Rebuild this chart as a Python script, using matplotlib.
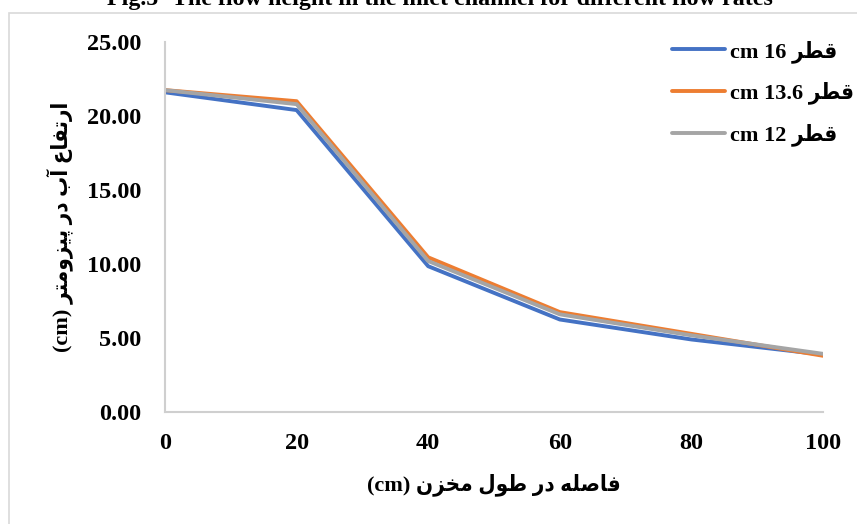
import matplotlib
matplotlib.use("Agg")
import matplotlib.pyplot as plt
from matplotlib.patches import Rectangle

# ---- data -------------------------------------------------------------
distance = [0, 20, 40, 60, 80, 100]
h_d16 = [21.6, 20.4, 9.85, 6.25, 4.9, 3.88]
h_d136 = [21.75, 21.0, 10.45, 6.75, 5.28, 3.8]
h_d12 = [21.75, 20.8, 10.2, 6.6, 5.18, 3.93]
y_ticks = [0, 5, 10, 15, 20, 25]

title = "Fig.5- The flow height in the inlet channel for different flow rates"
xlabel_fa = "فاصله در طول مخزن"
ylabel_fa = "ارتفاع آب در پیزومتر"
diam_fa = "قطر"
series_labels = ["16", "13.6", "12"]

# ---- minimal Arabic/Persian shaping (presentation forms, visual order) --
# letter: (isolated, final, initial, medial); None = does not join forward
FORMS = {
    "ا": ("\uFE8D", "\uFE8E", None, None),
    "آ": ("\uFE81", "\uFE82", None, None),
    "ب": ("\uFE8F", "\uFE90", "\uFE91", "\uFE92"),
    "ت": ("\uFE95", "\uFE96", "\uFE97", "\uFE98"),
    "خ": ("\uFEA5", "\uFEA6", "\uFEA7", "\uFEA8"),
    "د": ("\uFEA9", "\uFEAA", None, None),
    "ر": ("\uFEAD", "\uFEAE", None, None),
    "ز": ("\uFEAF", "\uFEB0", None, None),
    "ص": ("\uFEB9", "\uFEBA", "\uFEBB", "\uFEBC"),
    "ط": ("\uFEC1", "\uFEC2", "\uFEC3", "\uFEC4"),
    "ع": ("\uFEC9", "\uFECA", "\uFECB", "\uFECC"),
    "ف": ("\uFED1", "\uFED2", "\uFED3", "\uFED4"),
    "ق": ("\uFED5", "\uFED6", "\uFED7", "\uFED8"),
    "ل": ("\uFEDD", "\uFEDE", "\uFEDF", "\uFEE0"),
    "م": ("\uFEE1", "\uFEE2", "\uFEE3", "\uFEE4"),
    "ن": ("\uFEE5", "\uFEE6", "\uFEE7", "\uFEE8"),
    "ه": ("\uFEE9", "\uFEEA", "\uFEEB", "\uFEEC"),
    "و": ("\uFEED", "\uFEEE", None, None),
    "پ": ("\uFB56", "\uFB57", "\uFB58", "\uFB59"),
    "ی": ("\uFBFC", "\uFBFD", "\uFBFE", "\uFBFF"),
}


def shape_rtl(text):
    out = []
    for i, c in enumerate(text):
        if c not in FORMS:
            out.append(c)
            continue
        iso, fin, ini, med = FORMS[c]
        prev = text[i - 1] if i > 0 else None
        nxt = text[i + 1] if i + 1 < len(text) else None
        jp = prev in FORMS and FORMS[prev][2] is not None
        jn = nxt in FORMS and ini is not None
        if jp and jn:
            out.append(med)
        elif jp:
            out.append(fin)
        elif jn:
            out.append(ini)
        else:
            out.append(iso)
    return "".join(reversed(out))


FONT = ["Liberation Serif", "DejaVu Sans"]
plt.rcParams["font.family"] = FONT
plt.rcParams["font.weight"] = "bold"
plt.rcParams["font.stretch"] = "condensed"

W, H = 857, 524
fig = plt.figure(figsize=(W / 100, H / 100), dpi=100)
ax = fig.add_axes([165 / W, 1 - 412 / H, (823 - 165) / W, (412 - 42) / H])

colors = ["#4472C4", "#ED7D31", "#A5A5A5"]
for ys, col, lab in zip([h_d16, h_d136, h_d12], colors, series_labels):
    ax.plot(distance, ys, color=col, lw=2.8, solid_joinstyle="round",
            solid_capstyle="round",
            label=f"cm {lab} " + shape_rtl(diam_fa))

ax.set_xlim(0, 100)
ax.set_ylim(0, 25)
ax.set_xticks(distance)
ax.set_yticks(y_ticks)
ax.set_yticklabels([f"{v:.2f}" for v in y_ticks])
ax.tick_params(length=0, labelsize=17.5)
ax.tick_params(axis="y", pad=17)
ax.tick_params(axis="x", pad=15)
for lbl in ax.get_xticklabels() + ax.get_yticklabels():
    lbl.set_fontweight("bold")

for s in ["top", "right"]:
    ax.spines[s].set_visible(False)
for s in ["left", "bottom"]:
    ax.spines[s].set_color("#cfcfcf")
    ax.spines[s].set_linewidth(1.5)

ax.set_xlabel("(cm) " + shape_rtl(xlabel_fa), fontsize=16, fontweight="bold",
              labelpad=14)
ax.set_ylabel("(cm) " + shape_rtl(ylabel_fa), fontsize=16, fontweight="bold",
              labelpad=10)

leg = ax.legend(loc="upper left", bbox_to_anchor=(652 / W, 1 - 20 / H),
                bbox_transform=fig.transFigure, frameon=False,
                prop={"size": 16, "weight": "bold", "family": FONT,
                      "stretch": "condensed"},
                handlelength=2.4, handletextpad=0.2, labelspacing=0.85)

# outer chart frame (extends past the right/bottom edges)
fig.patches.append(Rectangle((9 / W, -0.1), 1.2, 1 - 13.5 / H + 0.1,
                             transform=fig.transFigure, fill=False,
                             edgecolor="#d9d9d9", lw=1.2))

fig.text(440 / W, 1 - 5 / H, title, ha="center", va="baseline", fontsize=17.3,
         fontweight="bold", family=FONT)

fig.savefig("out.png", dpi=100, facecolor="white")
